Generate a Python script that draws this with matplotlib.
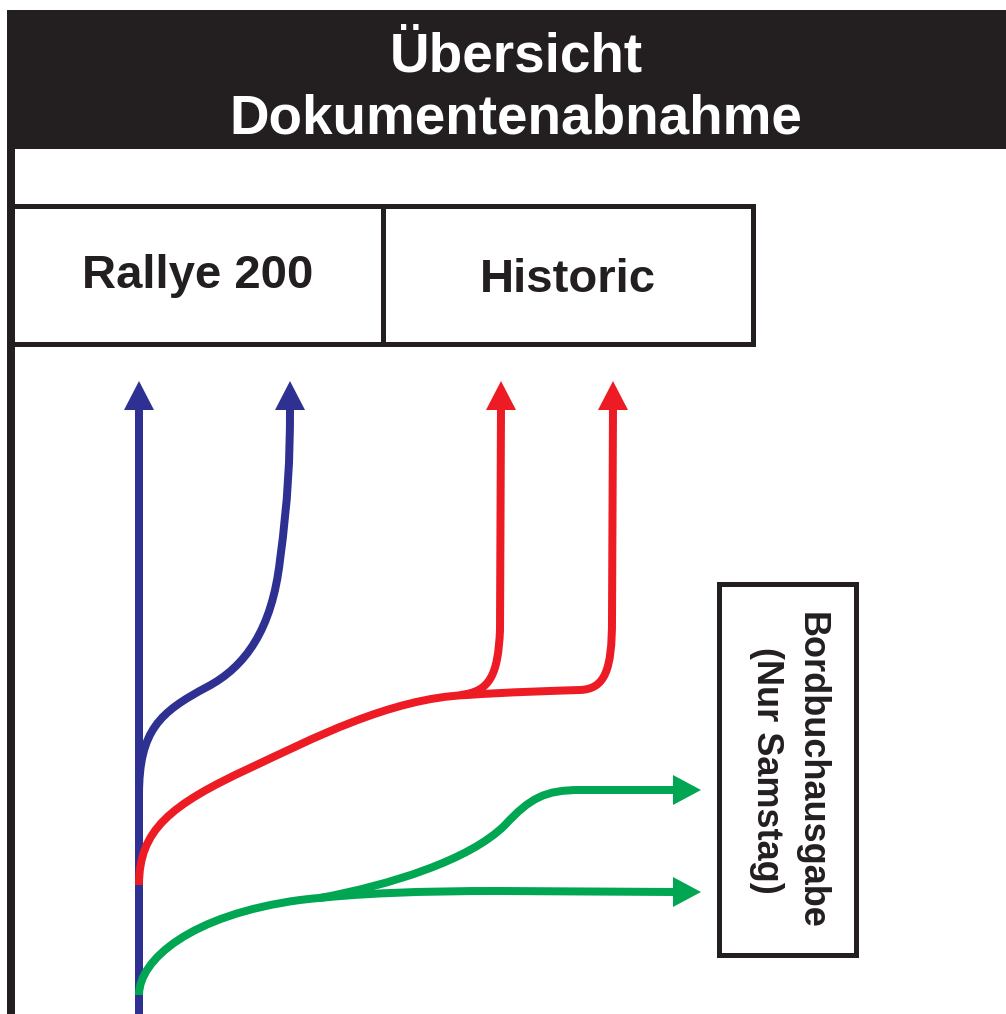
import matplotlib
matplotlib.use('Agg')
import matplotlib.pyplot as plt
from matplotlib.path import Path
from matplotlib.patches import PathPatch, Polygon, Rectangle

plt.rcParams['font.family'] = ['Liberation Sans', 'DejaVu Sans']

# texts
title_lines = ["Übersicht", "Dokumentenabnahme"]
box_labels = ["Rallye 200", "Historic"]
side_lines = ["Bordbuchausgabe", "(Nur Samstag)"]

# colours
BLUE = '#2e3192'
RED = '#ed1c24'
GREEN = '#00a651'
BLACK = '#231f20'

# flow lines in pixel coords (x, y), y grows downward
# each entry: start point followed by cubic bezier triplets, 'L' = straight line
blue_trunk = [(139, 1014), 'L', (139, 408)]
blue_branch = [(139, 795),
               (139, 730), (160, 712), (207, 687),
               (245, 667), (272, 630), (280, 560),
               (288, 500), (290, 460), (290, 408)]
red_main = [(139, 885),
            (139, 830), (170, 805), (250, 768),
            (310, 740), (390, 698), (467, 695),
            (510, 692), (550, 691), (580, 690),
            (605, 689), (612, 670), (612, 620),
            'L', (613, 408)]
red_branch = [(460, 695),
              (490, 692), (498, 675), (500, 630),
              'L', (501, 408)]
green_main = [(139, 995),
              (139, 960), (190, 915), (300, 900),
              (360, 893), (420, 891), (500, 891),
              'L', (675, 892)]
green_branch = [(320, 898),
                (390, 885), (470, 860), (505, 825),
                (530, 798), (545, 790), (580, 790),
                'L', (675, 790)]

# arrow tips (x, y, direction)
arrow_tips = [(139, 381, 'up', BLUE), (290, 381, 'up', BLUE),
              (501, 381, 'up', RED), (613, 381, 'up', RED),
              (701, 790, 'right', GREEN), (701, 892, 'right', GREEN)]

fig = plt.figure(figsize=(10.06, 10.14), dpi=100)
ax = fig.add_axes([0, 0, 1, 1])
ax.set_xlim(0, 1006)
ax.set_ylim(1014, 0)
ax.axis('off')


def make_path(spec):
    verts = [spec[0]]
    codes = [Path.MOVETO]
    i = 1
    while i < len(spec):
        if spec[i] == 'L':
            verts.append(spec[i + 1])
            codes.append(Path.LINETO)
            i += 2
        else:
            verts += spec[i:i + 3]
            codes += [Path.CURVE4] * 3
            i += 3
    return Path(verts, codes)


LW = 8 * 0.72

# header bar
ax.add_patch(Rectangle((7, 9.5), 1000, 139, facecolor=BLACK, edgecolor='none'))
ax.text(516, 72, title_lines[0], color='white', fontsize=39.5, fontweight='bold',
        ha='center', va='baseline')
ax.text(516, 133, title_lines[1], color='white', fontsize=39.5, fontweight='bold',
        ha='center', va='baseline')

# left border
ax.plot([11, 11], [148, 1014], color=BLACK, lw=8 * 0.72, solid_capstyle='butt')

# category boxes
ax.add_patch(Rectangle((11, 205.5), 372, 138, fill=False, edgecolor=BLACK, lw=5 * 0.72))
ax.add_patch(Rectangle((383, 205.5), 370.5, 138, fill=False, edgecolor=BLACK, lw=5 * 0.72))
ax.text(198, 288, box_labels[0], fontsize=34, fontweight='bold', color=BLACK,
        ha='center', va='baseline')
ax.text(568, 292, box_labels[1], fontsize=34, fontweight='bold', color=BLACK,
        ha='center', va='baseline')

# side box
ax.add_patch(Rectangle((719.5, 583.5), 137, 371, fill=False, edgecolor=BLACK, lw=5 * 0.72))
ax.text(811, 770, side_lines[0], fontsize=26, fontweight='bold', color=BLACK,
        rotation=270, ha='center', va='center')
ax.text(767, 770, side_lines[1], fontsize=26, fontweight='bold', color=BLACK,
        rotation=270, ha='center', va='center')

# flow lines
ax.add_patch(PathPatch(make_path(blue_trunk), fill=False, edgecolor=BLUE, lw=LW, capstyle='butt'))
for spec, col in [(blue_branch, BLUE), (red_main, RED), (red_branch, RED),
                  (green_main, GREEN), (green_branch, GREEN)]:
    ax.add_patch(PathPatch(make_path(spec), fill=False, edgecolor=col, lw=LW,
                           capstyle='butt', joinstyle='round'))

# arrow heads
for x, y, d, col in arrow_tips:
    if d == 'up':
        pts = [(x, y), (x - 15, y + 29), (x + 15, y + 29)]
    else:
        pts = [(x, y), (x - 28, y - 15), (x - 28, y + 15)]
    ax.add_patch(Polygon(pts, closed=True, facecolor=col, edgecolor='none'))

fig.savefig('out.png', dpi=100)
